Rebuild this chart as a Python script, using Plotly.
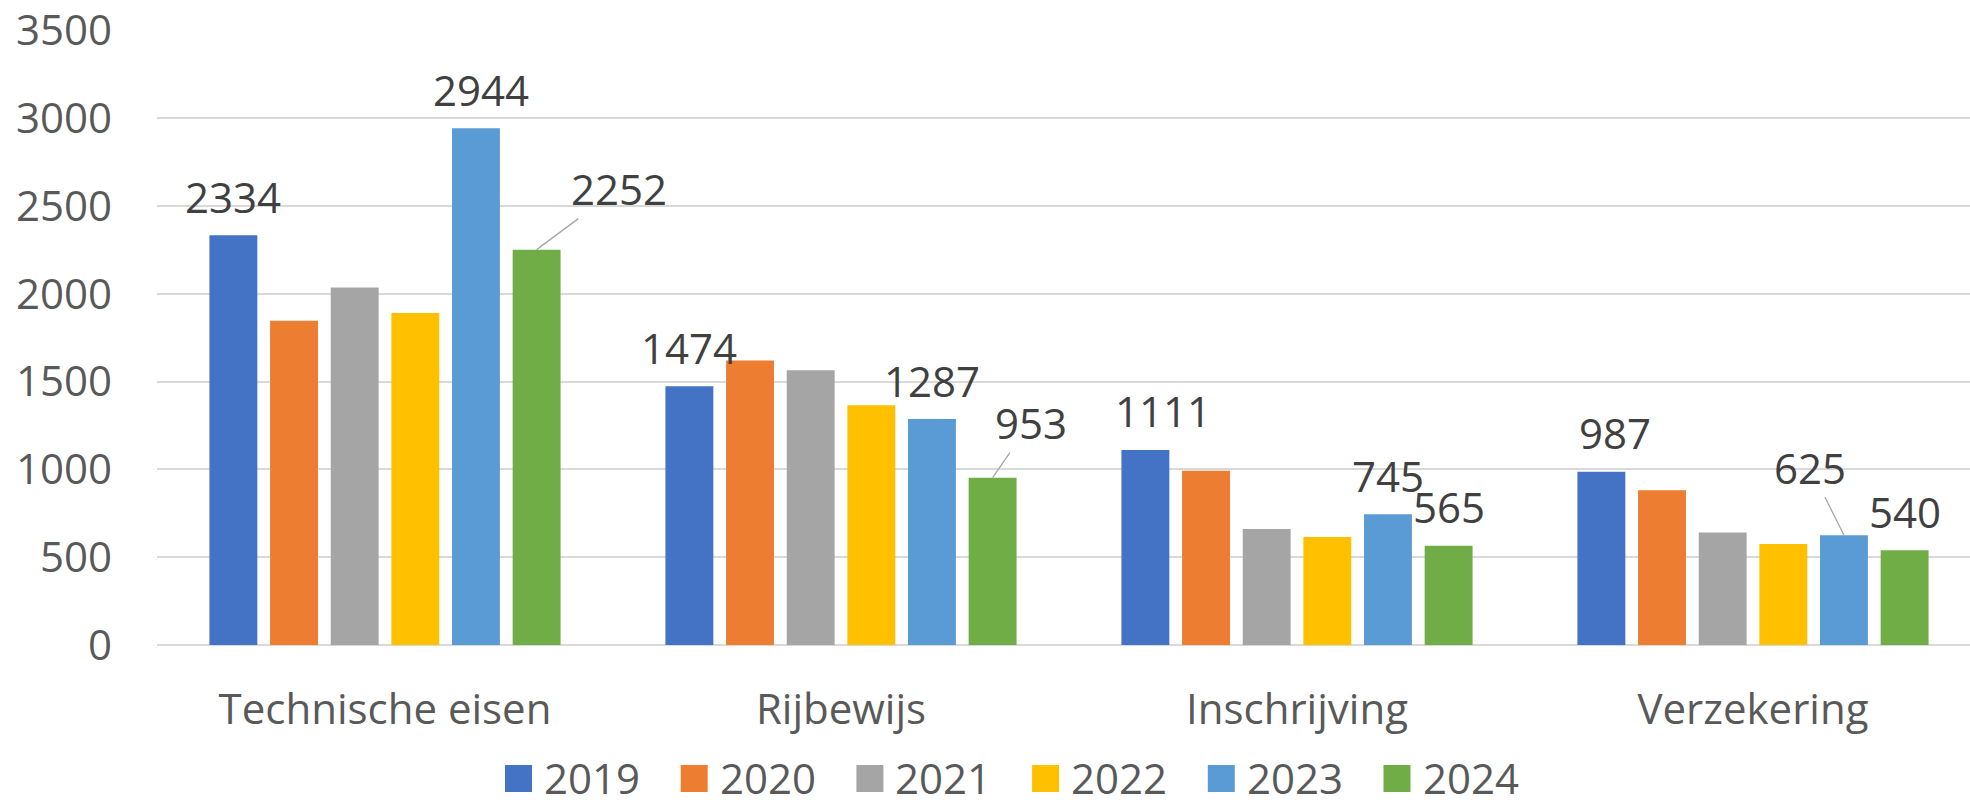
import plotly.graph_objects as go

categories = ["Technische eisen", "Rijbewijs", "Inschrijving", "Verzekering"]
years = ["2019", "2020", "2021", "2022", "2023", "2024"]
v2019 = [2334, 1474, 1111, 987]
v2020 = [1847, 1620, 993, 882]
v2021 = [2036, 1565, 661, 641]
v2022 = [1891, 1366, 615, 575]
v2023 = [2944, 1287, 745, 625]
v2024 = [2252, 953, 565, 540]
y_ticks = [0, 500, 1000, 1500, 2000, 2500, 3000, 3500]

series = [v2019, v2020, v2021, v2022, v2023, v2024]
colors = ["#4472C4", "#ED7D31", "#A5A5A5", "#FFC000", "#5B9BD5", "#70AD47"]
labeled = {"2019", "2023", "2024"}

# label tweaks (pixels): (series, category) -> dict
label_tweaks = {
    (5, 0): dict(arrow=True, ax=82, ay=-61),
    (5, 1): dict(arrow=True, ax=38, ay=-55),
    (4, 3): dict(arrow=True, ax=-34, ay=-68),
    (0, 2): dict(dx=18),
    (0, 3): dict(dx=14),
    (4, 0): dict(dx=5),
}

FONT = "Open Sans"
FS = 42
W, H = 1970, 806
ML, MR, MT, MB = 157, 0, 30, 161
plot_w = W - ML - MR
plot_h = H - MT - MB
bargap = 0.202
groupgap = 0.21
cat_px = 456.0
xr_max = -0.5 + plot_w / cat_px

xs = list(range(len(categories)))
fig = go.Figure()
for i, (yr, vals) in enumerate(zip(years, series)):
    fig.add_trace(go.Bar(x=xs, y=vals, name=yr, marker=dict(color=colors[i], line=dict(width=0)),
                         showlegend=False, hoverinfo="skip"))

slot = (1 - bargap) / len(years)
annotations = []
for i, (yr, vals) in enumerate(zip(years, series)):
    if yr not in labeled:
        continue
    for g, v in enumerate(vals):
        bx = g + (i - (len(years) - 1) / 2) * slot
        tw = label_tweaks.get((i, g), {})
        common = dict(x=bx, y=v, xref="x", yref="y", text=str(v),
                      font=dict(family=FONT, size=FS, color="#404040"))
        if tw.get("arrow"):
            annotations.append(dict(**common, showarrow=True, ax=tw["ax"], ay=tw["ay"],
                                    arrowhead=0, arrowwidth=1.3, arrowcolor="#a6a6a6",
                                    standoff=0))
        else:
            annotations.append(dict(**common, showarrow=False, xanchor="center", yanchor="middle",
                                    xshift=tw.get("dx", 0), yshift=39))

# manual legend (large swatches)
def px_to_paper_x(px):
    return (px - ML) / plot_w

def px_to_paper_y(py):
    return (H - MB - py) / plot_h

shapes = []
LEG_X0, LEG_PITCH, SW, LEG_Y0 = 505, 175.7, 27, 765
for i, yr in enumerate(years):
    x0 = LEG_X0 + i * LEG_PITCH
    shapes.append(dict(type="rect", xref="paper", yref="paper",
                       x0=px_to_paper_x(x0), x1=px_to_paper_x(x0 + SW),
                       y0=px_to_paper_y(LEG_Y0 + SW), y1=px_to_paper_y(LEG_Y0),
                       fillcolor=colors[i], line=dict(width=0)))
    annotations.append(dict(x=px_to_paper_x(x0 + 37), y=px_to_paper_y(LEG_Y0 + SW / 2 - 1),
                            xref="paper", yref="paper", text=yr, showarrow=False,
                            xanchor="left", yanchor="middle",
                            font=dict(family=FONT, size=FS, color="#595959")))

fig.update_layout(
    template="none",
    width=W, height=H,
    margin=dict(l=ML, r=MR, t=MT, b=MB, pad=0),
    paper_bgcolor="white", plot_bgcolor="white",
    barmode="group", bargap=bargap, bargroupgap=groupgap,
    font=dict(family=FONT, size=FS, color="#595959"),
    annotations=annotations, shapes=shapes,
    showlegend=False,
    xaxis=dict(tickmode="array", tickvals=xs, ticktext=categories, range=[-0.5, xr_max],
               showgrid=False, zeroline=False, showline=False, ticks="", automargin=False,
               ticklabelstandoff=36,
               tickfont=dict(family=FONT, size=FS, color="#595959")),
    yaxis=dict(range=[0, 3503], tickmode="array", tickvals=y_ticks, automargin=False,
               showgrid=True, gridcolor="#d9d9d9", gridwidth=1.5,
               zeroline=True, zerolinecolor="#d9d9d9", zerolinewidth=2,
               showline=False, ticks="", ticklabelstandoff=44,
               tickfont=dict(family=FONT, size=FS, color="#595959")),
)

fig.write_html("out.html", config={"displayModeBar": False},
               post_script="document.body.style.margin='0';document.body.style.overflow='hidden';")
